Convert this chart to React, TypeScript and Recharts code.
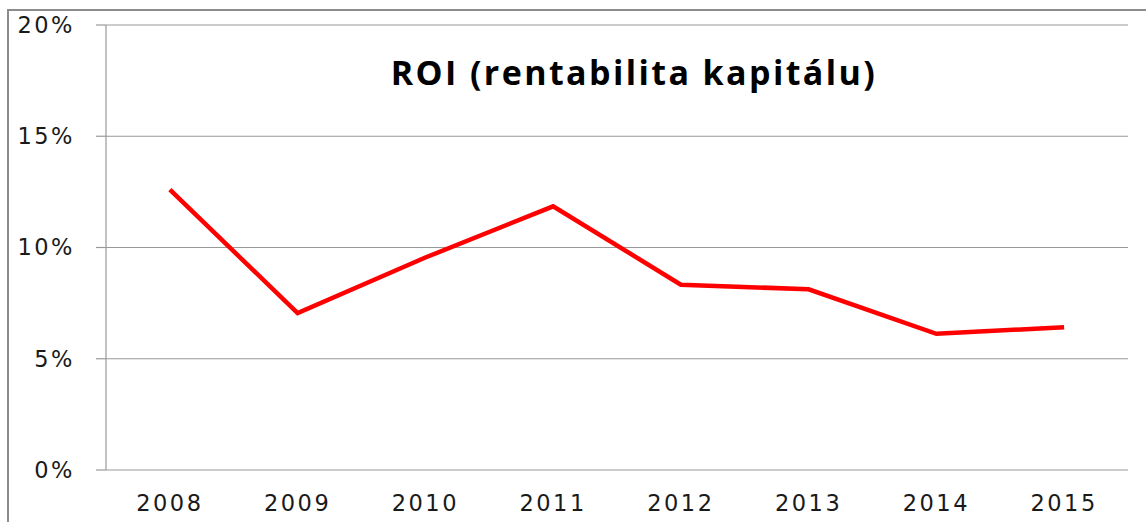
import { LineChart, Line, XAxis, YAxis, CartesianGrid } from "recharts";

const years = ["2008", "2009", "2010", "2011", "2012", "2013", "2014", "2015"];
const roi = [12.6, 7.05, 9.55, 11.85, 8.33, 8.12, 6.12, 6.42];
const yTicks = [0, 5, 10, 15, 20];
const title = "ROI (rentabilita kapitálu)";

// x is the band center so the boundary tick marks land between years
const data = years.map((y, i) => ({ x: i + 0.5, year: y, roi: roi[i] }));
const bounds = years.map((_, i) => i).concat(years.length);
const centers = data.map(d => d.x);

const axisGray = "#999";
const textCol = "#1a1a1a";
const tickFont = { fontSize: 22.5, fill: textCol, fontFamily: "DejaVu Sans", letterSpacing: 2.5 };

export default function App() {
  return <div style={{ position: "absolute", left: 0, top: 0, width: 1146, height: 522, background: "#fff", overflow: "hidden" }}>
    <div style={{ position: "absolute", left: 7, top: 9, width: 1200, height: 600, borderLeft: "2.5px solid #8c8c8c", borderTop: "2.5px solid #8c8c8c" }} />
    <LineChart width={1146} height={522} data={data} margin={{ top: 25, right: 18, bottom: 0, left: 0 }}>
      <CartesianGrid vertical={false} stroke={axisGray} strokeWidth={1.2} />
      <XAxis xAxisId="b" dataKey="x" type="number" domain={[0, years.length]} ticks={bounds} height={0}
        stroke={axisGray} strokeWidth={1.2} tickSize={8} tickFormatter={() => ""} />
      <XAxis xAxisId="l" dataKey="x" type="number" domain={[0, years.length]} ticks={centers} height={52}
        axisLine={false} tickLine={false} tickSize={0} tickMargin={25} interval={0}
        tickFormatter={(v: number) => years[Math.round(v - 0.5)]} tick={tickFont} />
      <YAxis width={106} domain={[0, 20]} ticks={yTicks} stroke={axisGray} strokeWidth={1.2} tickSize={10} tickMargin={21}
        tickFormatter={(v: number) => `${v}%`} interval={0} tick={tickFont} />
      <Line xAxisId="b" dataKey="roi" stroke="#ff0000" strokeWidth={4.5} dot={false} isAnimationActive={false} />
    </LineChart>
    <div style={{ position: "absolute", left: 0, width: 1268, top: 49, textAlign: "center", fontFamily: "'Open Sans'", fontWeight: 700, fontSize: 34, color: "#000", letterSpacing: 2.4, whiteSpace: "nowrap" }}>{title}</div>
  </div>;
}
